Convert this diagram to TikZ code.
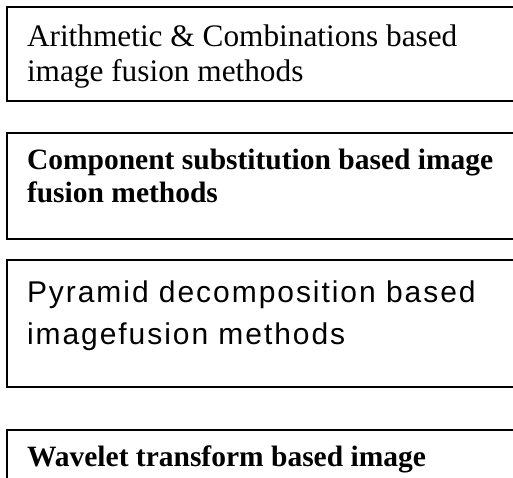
\documentclass[tikz,border=0pt]{standalone}
\usepackage{fontspec}
\newfontfamily\cambfont{Liberation Serif}
\newfontfamily\arialfont[LetterSpace=6.5]{Liberation Sans}
\begin{document}
\begin{tikzpicture}[x=1pt,y=-1pt,
  boxline/.style={draw=black,line width=1.6pt},
  txt/.style={anchor=base west,inner sep=0pt,outer sep=0pt},
  regtxt/.style={txt,font=\cambfont\fontsize{31.3}{36}\selectfont},
  boldtxt/.style={txt,font=\cambfont\bfseries\fontsize{29.5}{34}\selectfont},
  sanstxt/.style={txt,font=\arialfont\fontsize{30}{35}\selectfont}]
\useasboundingbox (0,0) rectangle (513,478);
\begin{scope}
\clip (0,0) rectangle (513,478);
\draw[boxline] (7,7) rectangle (540,101);
\draw[boxline] (7,133) rectangle (540,239);
\draw[boxline] (7,260) rectangle (540,387);
\draw[boxline] (7,430) rectangle (540,520);
\end{scope}
\node[regtxt] (a1) at (27,47) {Arithmetic \& Combinations based};
\node[regtxt] (a2) at (27,82) {image fusion methods};
\node[boldtxt] (b1) at (27,170) {Component substitution based image};
\node[boldtxt] (b2) at (27,203) {fusion methods};
\node[sanstxt] (c1) at (27,302) {Pyramid decomposition based};
\node[sanstxt] (c2) at (27,344) {imagefusion methods};
\node[boldtxt] (d1) at (27,466) {Wavelet transform based image};
\end{tikzpicture}
\end{document}
